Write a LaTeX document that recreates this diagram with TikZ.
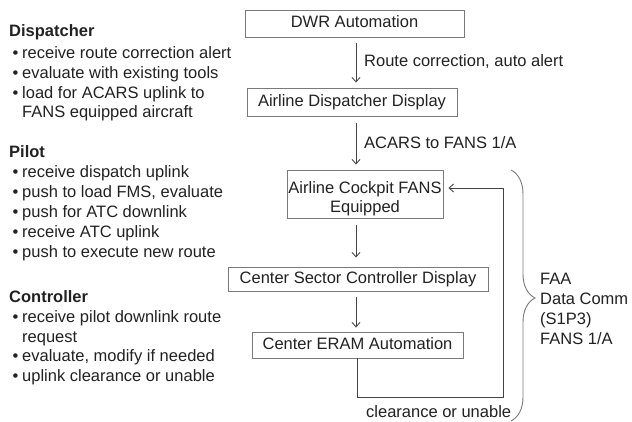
\documentclass[tikz,border=0pt]{standalone}
\usepackage{fontspec}
\setmainfont{Liberation Sans}
\usetikzlibrary{arrows.meta,decorations.pathreplacing}
\definecolor{txt}{HTML}{222222}
\definecolor{ln}{HTML}{7A7A7A}
\definecolor{ar}{HTML}{444444}
\begin{document}
\begin{tikzpicture}[x=1pt,y=-1pt,
  every node/.style={text=txt,font=\fontsize{16.5}{19}\selectfont,inner sep=0pt},
  box/.style={draw=ln,line width=0.9pt,text height=12pt,text depth=3.5pt},
  lbl/.style={anchor=base west},
  head/.style={anchor=base west,font=\fontsize{16.5}{19}\selectfont\bfseries},
  item/.style={anchor=base west},
  arr/.style={draw=ar,line width=0.9pt,-{Straight Barb[length=4.5pt,width=8pt]}},
  bracestyle/.style={draw=ln,line width=0.9pt,decorate,decoration={brace,amplitude=24pt,aspect=0.51}}]
\fill[white] (0,0) rectangle (632,422);
\useasboundingbox (0,0) rectangle (632,422);
\newcommand{\bul}{\makebox[10pt][l]{\hspace{0.5pt}•}}
% left text
\node[head] (h1) at (9,37) {Dispatcher};
\node[item] (d1) at (12,59) {\bul receive route correction alert};
\node[item] (d2) at (12,79) {\bul evaluate with existing tools};
\node[item] (d3) at (12,98.5) {\bul load for ACARS uplink to};
\node[item] (d4) at (22,118) {FANS equipped aircraft};
\node[head] (h2) at (9,158) {Pilot};
\node[item] (p1) at (12,178) {\bul receive dispatch uplink};
\node[item] (p2) at (12,198) {\bul push to load FMS, evaluate};
\node[item] (p3) at (12,217.5) {\bul push for ATC downlink};
\node[item] (p4) at (12,237.5) {\bul receive ATC uplink};
\node[item] (p5) at (12,257.5) {\bul push to execute new route};
\node[head] (h3) at (9,302) {Controller};
\node[item] (c1) at (12,322) {\bul receive pilot downlink route};
\node[item] (c2) at (22,342) {request};
\node[item] (c3) at (12,361.5) {\bul evaluate, modify if needed};
\node[item] (c4) at (12,381) {\bul uplink clearance or unable};
% boxes
\node[box,minimum width=219pt,minimum height=27pt] (dwr) at (354.5,23.5) {DWR Automation};
\node[box,minimum width=210pt,minimum height=28pt] (disp) at (352,102) {Airline Dispatcher Display};
\node[box,minimum width=156pt,minimum height=48pt,align=center,text height=40pt,text depth=2pt] (cock) at (365,194) {Airline Cockpit FANS\\Equipped};
\node[box,minimum width=260pt,minimum height=24pt] (sect) at (358,279) {Center Sector Controller Display};
\node[box,minimum width=211pt,minimum height=26pt] (eram) at (357.5,345) {Center ERAM Automation};
% arrows
\coordinate (ax) at (356,0);
\draw[arr,shorten <=6pt,shorten >=5pt] (dwr.south -| ax) -- (disp.north -| ax);
\draw[arr,shorten <=7pt,shorten >=5pt] (disp.south -| ax) -- (cock.north -| ax);
\draw[arr,shorten <=7pt,shorten >=9pt] (cock.south -| ax) -- (sect.north -| ax);
\draw[arr,shorten <=6pt,shorten >=4pt] (sect.south -| ax) -- (eram.north -| ax);
\coordinate (fb) at (503,397);
\draw[arr,shorten >=5pt] (eram.south) |- (fb) |- ([yshift=6pt]cock.east);
% labels
\node[lbl] (l1) at (364,67) {Route correction, auto alert};
\node[lbl] (l2) at (364,149) {ACARS to FANS 1/A};
\node[lbl] (l3) at (366,417) {clearance or unable};
% brace
\coordinate (bt) at (511,170);
\coordinate (bb) at (511,421);
\draw[bracestyle] (bt) -- (bb);
\node[lbl] (f1) at (540,284) {FAA};
\node[lbl] (f2) at (540,304) {Data Comm};
\node[lbl] (f3) at (540,324) {(S1P3)};
\node[lbl] (f4) at (540,344) {FANS 1/A};
\end{tikzpicture}
\end{document}
